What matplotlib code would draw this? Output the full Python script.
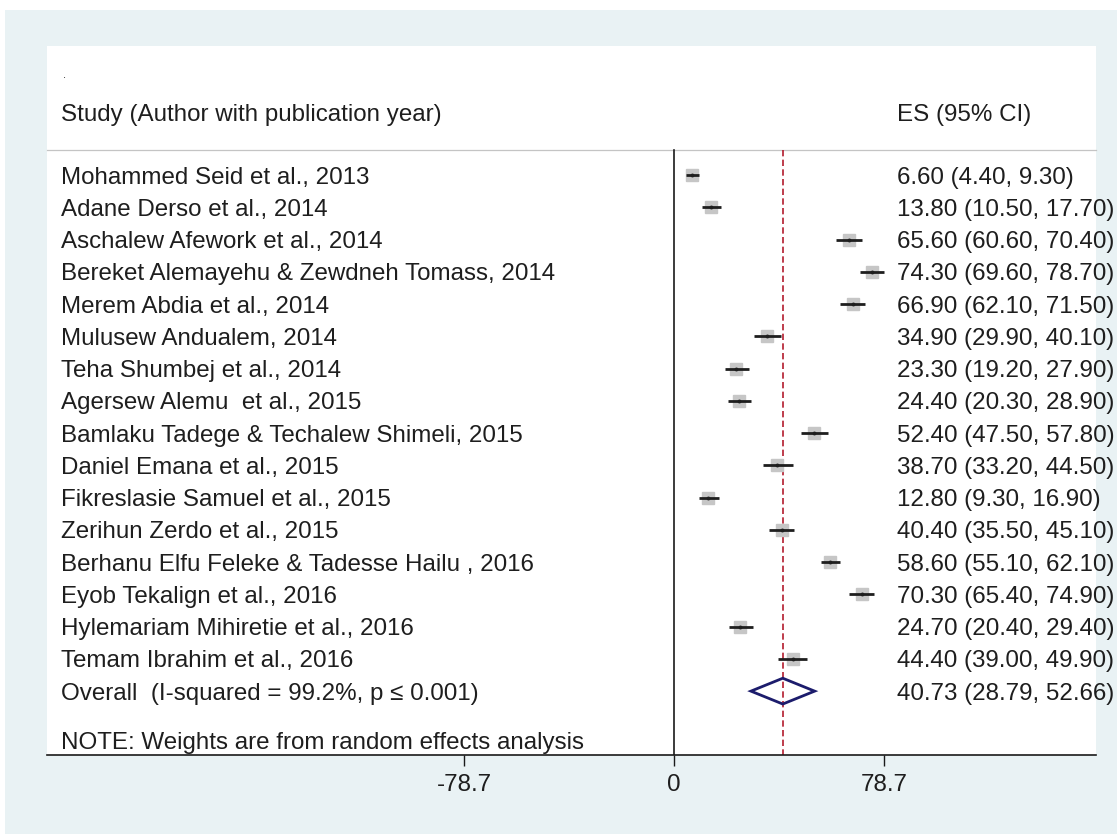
import matplotlib
matplotlib.use("Agg")
import matplotlib.pyplot as plt
from matplotlib.patches import Rectangle, Polygon

plt.rcParams['font.family'] = ['Liberation Sans', 'DejaVu Sans']

studies = ["Mohammed Seid et al., 2013",
           "Adane Derso et al., 2014",
           "Aschalew Afework et al., 2014",
           "Bereket Alemayehu & Zewdneh Tomass, 2014",
           "Merem Abdia et al., 2014",
           "Mulusew Andualem, 2014",
           "Teha Shumbej et al., 2014",
           "Agersew Alemu  et al., 2015",
           "Bamlaku Tadege & Techalew Shimeli, 2015",
           "Daniel Emana et al., 2015",
           "Fikreslasie Samuel et al., 2015",
           "Zerihun Zerdo et al., 2015",
           "Berhanu Elfu Feleke & Tadesse Hailu , 2016",
           "Eyob Tekalign et al., 2016",
           "Hylemariam Mihiretie et al., 2016",
           "Temam Ibrahim et al., 2016"]
es = [6.60, 13.80, 65.60, 74.30, 66.90, 34.90, 23.30, 24.40,
      52.40, 38.70, 12.80, 40.40, 58.60, 70.30, 24.70, 44.40]
lo = [4.40, 10.50, 60.60, 69.60, 62.10, 29.90, 19.20, 20.30,
      47.50, 33.20, 9.30, 35.50, 55.10, 65.40, 20.40, 39.00]
hi = [9.30, 17.70, 70.40, 78.70, 71.50, 40.10, 27.90, 28.90,
      57.80, 44.50, 16.90, 45.10, 62.10, 74.90, 29.40, 49.90]

overall_label = "Overall  (I-squared = 99.2%, p \u2264 0.001)"
overall_es, overall_lo, overall_hi = 40.73, 28.79, 52.66
xticks = [-78.7, 0, 78.7]
xticklabels = ["-78.7", "0", "78.7"]

txt_color = '#1e1e1e'
bg_color = '#E9F2F4'
fs = 17.4
dy = 0.08  # text sits a little below the marker row

fig = plt.figure(figsize=(11.17, 8.34), dpi=100, facecolor='white')
bg = Rectangle((5/1117, 0), 1, 824/834, transform=fig.transFigure,
               facecolor=bg_color, edgecolor='none', zorder=-10)
fig.add_artist(bg)

ax = fig.add_axes([47/1117, (834-755)/834, (1096-47)/1117, (755-46)/834])
ax.set_facecolor('white')
ax.set_xlim(-235.0, 158.1)
ax.set_ylim(17.98, -4.0)
for s in ['top', 'left', 'right']:
    ax.spines[s].set_visible(False)
ax.spines['bottom'].set_color('#1a1a1a')
ax.spines['bottom'].set_linewidth(1.2)
ax.set_yticks([])
ax.set_xticks(xticks)
ax.set_xticklabels(xticklabels, fontsize=fs, color=txt_color)
ax.tick_params(axis='x', length=8, width=1.0, color='#1a1a1a', pad=6)

tr = ax.get_yaxis_transform()
x_study = 14/1049
x_es = 850/1049
n = len(studies)
y_head_line = -0.78

# header
ax.text(x_study + 0.002, -3.1, ".", transform=tr, fontsize=8, color=txt_color, va='center')
ax.text(x_study, -1.94 + dy, "Study (Author with publication year)", transform=tr,
        fontsize=fs, color=txt_color, va='center')
ax.text(x_es, -1.94 + dy, "ES (95% CI)", transform=tr, fontsize=fs, color=txt_color,
        va='center')
ax.plot([0, 1], [y_head_line, y_head_line], transform=tr, color='#c4c4c4', lw=0.9,
        clip_on=False)

# reference lines
ax.plot([0, 0], [y_head_line, 17.98], color='#1a1a1a', lw=1.2, zorder=2)
ax.plot([overall_es, overall_es], [y_head_line, 17.98], color='#B31B2E', lw=1.2,
        linestyle=(0, (3.8, 2.0)), zorder=2)

for i in range(n):
    ax.plot(es[i], i, marker='s', markersize=8.6, color='#c6c6c6',
            markeredgecolor='#c6c6c6', zorder=3)
    ax.plot([lo[i], hi[i]], [i, i], color='#1e1e1e', lw=2.0, zorder=4,
            solid_capstyle='butt')
    ax.plot(es[i], i, marker='o', markersize=1.8, color='#1e1e1e', zorder=5)
    ax.text(x_study, i + dy, studies[i], transform=tr, fontsize=fs, color=txt_color,
            va='center')
    ax.text(x_es, i + dy, "%.2f (%.2f, %.2f)" % (es[i], lo[i], hi[i]), transform=tr,
            fontsize=fs, color=txt_color, va='center', clip_on=False)

yo = n
ax.add_patch(Polygon([[overall_lo, yo], [overall_es, yo - 0.40], [overall_hi, yo],
                      [overall_es, yo + 0.40]], closed=True, facecolor='none',
                     edgecolor='#1c1c6c', lw=2.0, zorder=4))
ax.text(x_study, yo + dy, overall_label, transform=tr, fontsize=fs, color=txt_color,
        va='center')
ax.text(x_es, yo + dy, "%.2f (%.2f, %.2f)" % (overall_es, overall_lo, overall_hi),
        transform=tr, fontsize=fs, color=txt_color, va='center', clip_on=False)

ax.text(x_study, 17.52 + dy, "NOTE: Weights are from random effects analysis",
        transform=tr, fontsize=fs, color=txt_color, va='center')

fig.savefig("out.png", dpi=100, facecolor=fig.get_facecolor())
